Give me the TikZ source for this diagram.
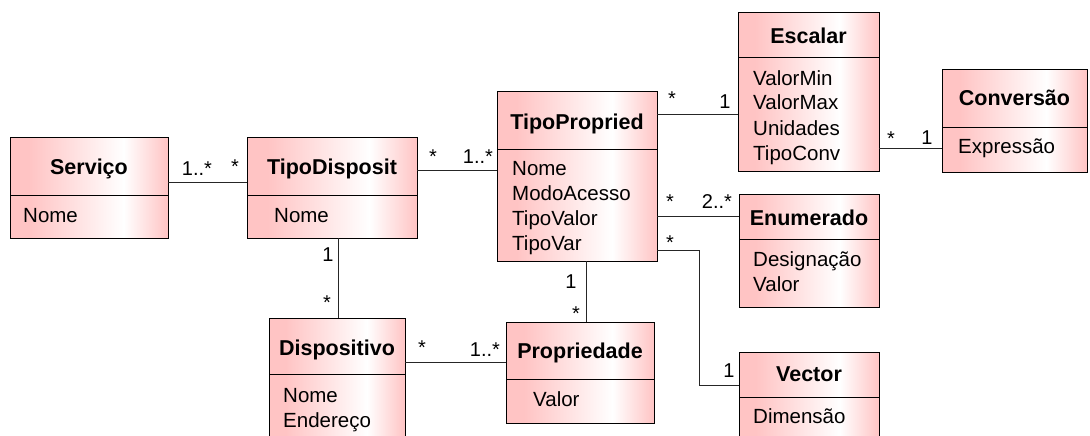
\documentclass[tikz,border=0pt]{standalone}
\usepackage{fontspec}
\setmainfont{Liberation Sans}
\definecolor{umlpink}{RGB}{255,196,196}
\pgfdeclarehorizontalshading{umlshade}{100bp}{color(0bp)=(umlpink); color(25bp)=(umlpink); color(31bp)=(umlpink); color(61bp)=(white); color(75bp)=(umlpink); color(100bp)=(umlpink)}
\tikzset{
  classbox/.style={draw=black, line width=1pt, shade, shading=umlshade, inner sep=0pt, outer sep=0pt, anchor=north west},
  divline/.style={draw=black, line width=1pt},
  ctitle/.style={font=\fontsize{21.5}{25}\selectfont\bfseries, anchor=base, inner sep=0pt},
  cattr/.style={font=\fontsize{20.5}{25}\selectfont, anchor=base west, inner sep=0pt},
  mult/.style={font=\fontsize{20}{24}\selectfont, anchor=base, inner sep=0pt},
  assoc/.style={draw=black!85, line width=1pt}
}
\begin{document}
\begin{tikzpicture}[x=1pt,y=-1pt]
\useasboundingbox (0,0) rectangle (1090,436);
\clip (0,0) rectangle (1090,436);

% class boxes
\node[classbox, minimum width=158pt, minimum height=101pt] (serv) at (10,137) {};
\node[classbox, minimum width=170pt, minimum height=101pt] (tdisp) at (247,137) {};
\node[classbox, minimum width=160pt, minimum height=169pt] (tprop) at (497,92) {};
\node[classbox, minimum width=141pt, minimum height=158pt] (esc) at (738,13) {};
\node[classbox, minimum width=145pt, minimum height=102pt] (conv) at (942,70) {};
\node[classbox, minimum width=140pt, minimum height=113pt] (enum) at (739,194) {};
\node[classbox, minimum width=140pt, minimum height=100pt] (vect) at (739,352) {};
\node[classbox, minimum width=136pt, minimum height=130pt] (disp) at (269,318) {};
\node[classbox, minimum width=148pt, minimum height=101pt] (propd) at (506,322) {};

% dividers
\draw[divline] (serv.west |- 0,195) -- (serv.east |- 0,195);
\draw[divline] (tdisp.west |- 0,195) -- (tdisp.east |- 0,195);
\draw[divline] (tprop.west |- 0,149) -- (tprop.east |- 0,149);
\draw[divline] (esc.west |- 0,58) -- (esc.east |- 0,58);
\draw[divline] (conv.west |- 0,127) -- (conv.east |- 0,127);
\draw[divline] (enum.west |- 0,239) -- (enum.east |- 0,239);
\draw[divline] (vect.west |- 0,397) -- (vect.east |- 0,397);
\draw[divline] (disp.west |- 0,374) -- (disp.east |- 0,374);
\draw[divline] (propd.west |- 0,379) -- (propd.east |- 0,379);

% titles
\node[ctitle] (servt) at (89,174) {Serviço};
\node[ctitle] (tdispt) at (332,174) {TipoDisposit};
\node[ctitle] (tpropt) at (577,129) {TipoPropried};
\node[ctitle] (esct) at (808.5,44) {Escalar};
\node[ctitle] (convt) at (1014.5,106) {Conversão};
\node[ctitle] (enumt) at (809,225) {Enumerado};
\node[ctitle] (vectt) at (809,381.5) {Vector};
\node[ctitle] (dispt) at (337,355) {Dispositivo};
\node[ctitle] (propdt) at (580,358) {Propriedade};

% attributes
\node[cattr] (serva1) at (23,222) {Nome};
\node[cattr] (tdispa1) at (274,222) {Nome};
\node[cattr] (tpropa1) at (512,175) {Nome};
\node[cattr] (tpropa2) at (512,200) {ModoAcesso};
\node[cattr] (tpropa3) at (512,225) {TipoValor};
\node[cattr] (tpropa4) at (512,250) {TipoVar};
\node[cattr] (esca1) at (753,85) {ValorMin};
\node[cattr] (esca2) at (753,110) {ValorMax};
\node[cattr] (esca3) at (753,135) {Unidades};
\node[cattr] (esca4) at (753,160) {TipoConv};
\node[cattr] (conva1) at (958,153) {Expressão};
\node[cattr] (enuma1) at (753,266) {Designação};
\node[cattr] (enuma2) at (753,291) {Valor};
\node[cattr] (vecta1) at (753,423) {Dimensão};
\node[cattr] (dispa1) at (283,402) {Nome};
\node[cattr] (dispa2) at (283,427) {Endereço};
\node[cattr] (propda1) at (533,406) {Valor};

% associations
\draw[assoc] (serv.east |- 0,182) -- (tdisp.west |- 0,182);
\draw[assoc] (tdisp.east |- 0,170) -- (tprop.west |- 0,170);
\draw[assoc] (tprop.east |- 0,114) -- (esc.west |- 0,114);
\draw[assoc] (esc.east |- 0,148) -- (conv.west |- 0,148);
\draw[assoc] (tprop.east |- 0,216) -- (enum.west |- 0,216);
\coordinate (vbend) at (699,385);
\draw[assoc] (tprop.east |- 0,250) -| (vbend) -- (vect.west |- vbend);
\draw[assoc] (tdisp.south -| 338,0) -- (disp.north -| 338,0);
\draw[assoc] (tprop.south -| 586,0) -- (propd.north -| 586,0);
\draw[assoc] (disp.east |- 0,362) -- (propd.west |- 0,362);

% multiplicities
\node[mult] (m1) at (197,175) {1..*};
\node[mult] (m2) at (235,173) {*};
\node[mult] (m3) at (433,163) {*};
\node[mult] (m4) at (478,163) {1..*};
\node[mult] (m5) at (672,106) {*};
\node[mult] (m6) at (725,108) {1};
\node[mult] (m7) at (891,145) {*};
\node[mult] (m8) at (927,144) {1};
\node[mult] (m9) at (670,208) {*};
\node[mult] (m10) at (717,208) {2..*};
\node[mult] (m11) at (670,249) {*};
\node[mult] (m12) at (729,377) {1};
\node[mult] (m13) at (328,261) {1};
\node[mult] (m14) at (327,309) {*};
\node[mult] (m15) at (571,288) {1};
\node[mult] (m16) at (576,320) {*};
\node[mult] (m17) at (422,354) {*};
\node[mult] (m18) at (485,356) {1..*};
\end{tikzpicture}
\end{document}
